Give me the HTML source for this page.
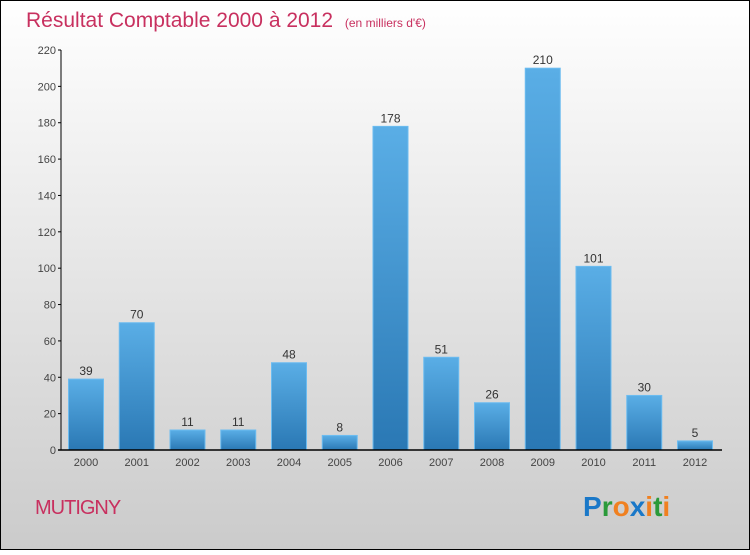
<!DOCTYPE html>
<html><head><meta charset="utf-8"><style>
body{margin:0}
svg text{font-family:"Liberation Sans",sans-serif}
</style></head><body>
<svg width="750" height="550" xmlns="http://www.w3.org/2000/svg">
<defs>
<linearGradient id="bg" x1="0" y1="0" x2="0" y2="1"><stop offset="0" stop-color="#ffffff"/><stop offset="1" stop-color="#cbcbcb"/></linearGradient>
<linearGradient id="bar" x1="0" y1="0" x2="0" y2="1"><stop offset="0" stop-color="#5aaee6"/><stop offset="1" stop-color="#2a78b4"/></linearGradient>
</defs>
<rect x="0.5" y="0.5" width="749" height="549" fill="url(#bg)" stroke="#000"/>
<text x="26" y="27" font-size="21" fill="#c8305f">Résultat Comptable 2000 à 2012 <tspan font-size="12" dx="6">(en milliers d'€)</tspan></text>
<g id="yaxis"></g>
<g id="bars"></g>
<g id="xaxis"></g>
<text x="35" y="514" font-size="20" fill="#c8305f" letter-spacing="-1">MUTIGNY</text>
<text x="583" y="516" font-size="28" font-weight="bold"><tspan fill="#1a78c8">P</tspan><tspan fill="#2a9a3a">r</tspan><tspan fill="#f08020">o</tspan><tspan fill="#1a78c8">x</tspan><tspan fill="#f08020">i</tspan><tspan fill="#2a9a3a">t</tspan><tspan fill="#f08020">i</tspan></text>
</svg>
<script>
const years=["2000","2001","2002","2003","2004","2005","2006","2007","2008","2009","2010","2011","2012"];
const values=[39,70,11,11,48,8,178,51,26,210,101,30,5];
const yTicks=[0,20,40,60,80,100,120,140,160,180,200,220];
const NS="http://www.w3.org/2000/svg";
const y0=450,yTop=50,yMax=220,x0=61,step=50.75,c0=86,bw=35;
const Y=v=>y0-(v/yMax)*(y0-yTop);
const X=i=>c0+i*step;
function mk(t,a,p){const e=document.createElementNS(NS,t);for(const k in a)e.setAttribute(k,a[k]);p.appendChild(e);return e;}
const ya=document.getElementById('yaxis'),ba=document.getElementById('bars'),xa=document.getElementById('xaxis');
let l=mk('line',{x1:x0,y1:yTop,x2:x0,y2:y0,stroke:'#000'},ya);


yTicks.forEach(v=>{
 const tk=mk('line',{x1:x0-3,y1:Y(v),x2:x0,y2:Y(v),stroke:'#000'},ya);
 
 
 const t=mk('text',{x:x0-5,y:Y(v)+4,'font-size':11,fill:'#444','text-anchor':'end'},ya);
 t.textContent=v;
 
 
});
values.forEach((v,i)=>{
 const r=mk('rect',{x:X(i)-bw/2,y:Y(v),width:bw,height:y0-Y(v),fill:'url(#bar)',stroke:'#6cbcf0','stroke-width':1},ba);
 
 
 const t=mk('text',{x:X(i),y:Y(v)-4,'font-size':12,fill:'#333','text-anchor':'middle'},ba);
 t.textContent=v;
 
 
 const xl=mk('text',{x:X(i),y:466,'font-size':11,fill:'#444','text-anchor':'middle'},xa);
 xl.textContent=years[i];
 
 
});
const xl=mk('line',{x1:x0-3,y1:y0,x2:722,y2:y0,stroke:'#000','stroke-width':1.5},xa);


</script>
</body></html>
